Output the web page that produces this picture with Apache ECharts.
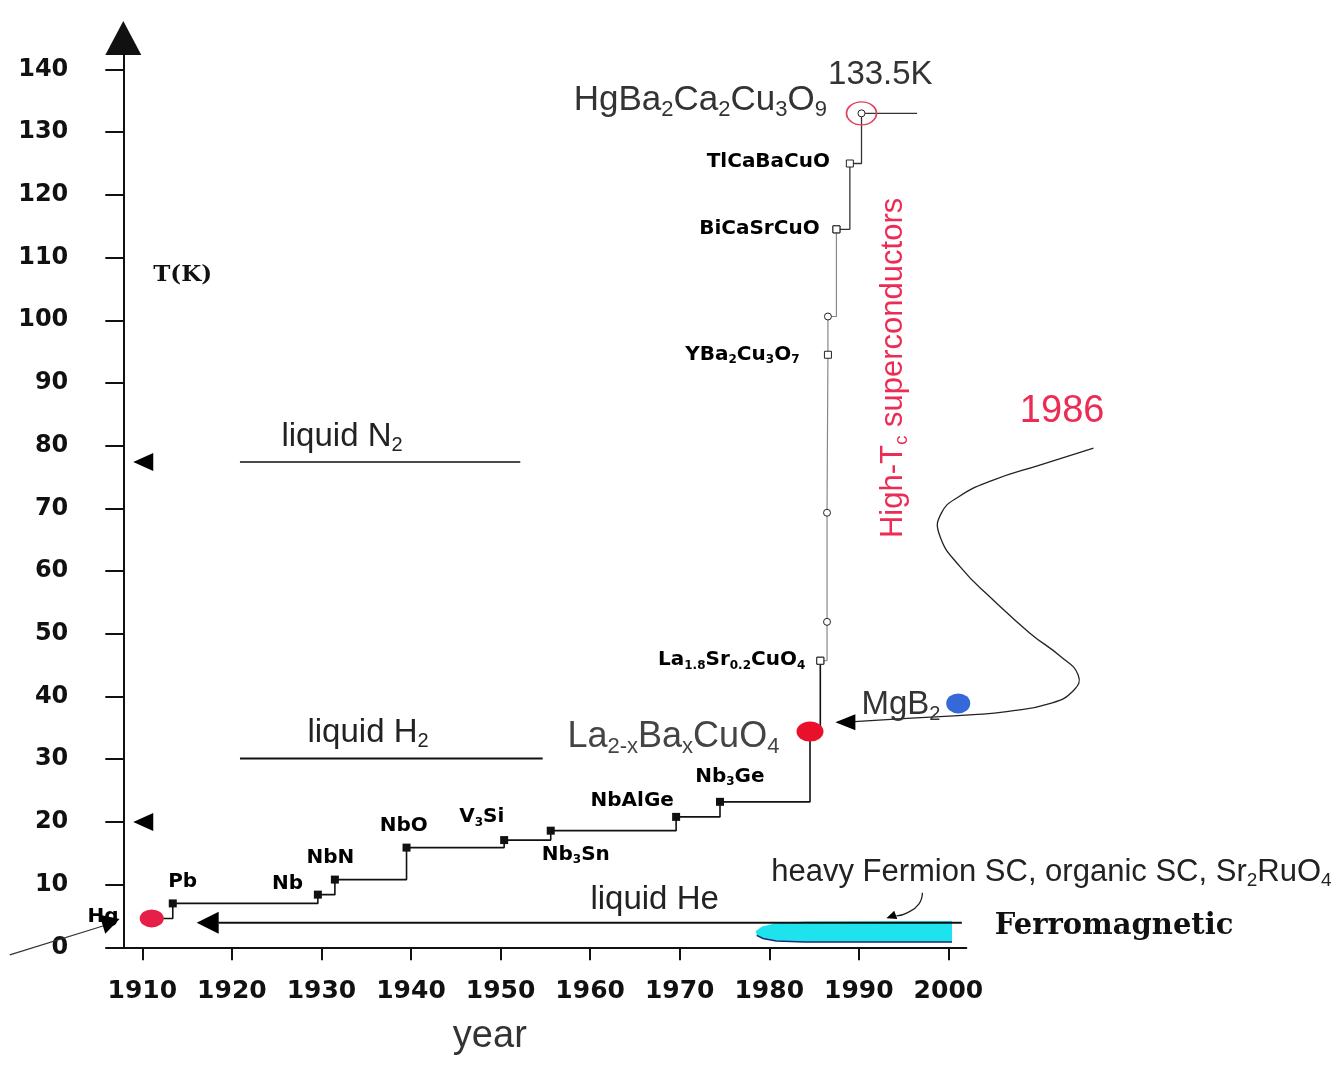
<!DOCTYPE html>
<html><head><meta charset="utf-8">
<script src="https://cdn.jsdelivr.net/npm/echarts@6/dist/echarts.min.js"></script>
<style>html,body{margin:0;padding:0;background:#fff}#c{width:1338px;height:1067px}</style>
</head><body><div id="c"></div>
<script>
// ================= DATA (years / kelvin) =================
const yearTicks = [1910, 1920, 1930, 1940, 1950, 1960, 1970, 1980, 1990, 2000];
const tempTicks = [0, 10, 20, 30, 40, 50, 60, 70, 80, 90, 100, 110, 120, 130, 140];

// conventional superconductors up to the cuprate discovery
const lowTcNames = ['Hg', 'Pb', 'Nb', 'NbN', 'NbO', 'V3Si', 'Nb3Sn', 'NbAlGe', 'Nb3Ge', 'La2-xBaxCuO4', 'La1.8Sr0.2CuO4'];
const lowTcYears = [1911.05, 1913.4, 1929.6, 1931.5, 1939.5, 1950.4, 1955.6, 1969.6, 1974.5, 1984.55, 1985.7];
const lowTcTemps = [4.6, 7.0, 8.4, 10.8, 15.9, 17.1, 18.6, 20.8, 23.2, 34.4, 45.7];

// cuprates 1986-1987
const highTcNames = ['La1.8Sr0.2CuO4', '', '', 'YBa2Cu3O7', '', 'BiCaSrCuO'];
const highTcYears = [1985.7, 1986.45, 1986.45, 1986.55, 1986.55, 1987.5];
const highTcTemps = [45.7, 51.9, 69.3, 94.5, 100.6, 114.5];

// record cuprates
const topTcNames = ['BiCaSrCuO', 'TlCaBaCuO', 'HgBa2Ca2Cu3O9', ''];
const topTcYears = [1987.5, 1989.0, 1990.3, 1996.5];
const topTcTemps = [114.5, 125.0, 133.0, 133.0];

// cryogen levels
const coolantNames = ['liquid N2', 'liquid H2', 'liquid He'];
const coolantTemps = [77.4, 30.1, 3.9];
const coolantStartYears = [1920.9, 1920.9, 1918.5];
const coolantEndYears = [1952.2, 1954.7, 2001.5];
const axisArrowTemps = [77.4, 20.0];
const axisArrowYear = 1910.1;

// MgB2 (2001)
const mgb2Year = 2001.1, mgb2Temp = 38.9;
const mgb2CurveYears = [2016.2, 2010.2, 2005.0, 2001.2, 1999.2, 1999.0, 2001.3, 2005.0, 2009.1, 2012.5, 2014.5, 2014.0, 2011.4, 2006.5, 2002.8, 1995.4, 1989.5];
const mgb2CurveTemps = [79.6, 76.9, 74.5, 71.9, 69.2, 65.8, 60.7, 55.4, 50.1, 46.4, 43.4, 41.0, 38.9, 37.6, 37.1, 36.5, 36.0];

// ferromagnetic / heavy fermion region
const ferroYears = [2000.4, 1984, 1980.6, 1979.2, 1978.5, 1978.6, 1979.3, 1980.8, 1984, 2000.4];
const ferroTemps = [4.2, 4.1, 3.8, 3.3, 2.6, 1.9, 1.4, 1.0, 0.85, 0.85];
const fermionPointerYears = [1997.1, 1996.7, 1995.4, 1994.2];
const fermionPointerTemps = [8.7, 6.9, 5.5, 5.0];
const hgPointerYears = [1895.2, 1905.6];
const hgPointerTemps = [-1.2, 3.4];

// text annotations in data coordinates
const annTexts = ['Hg', 'Pb', 'Nb', 'NbN', 'NbO', 'V{s|3}Si', 'Nb{s|3}Sn', 'NbAlGe', 'Nb{s|3}Ge',
  'La{s|1.8}Sr{s|0.2}CuO{s|4}', 'YBa{s|2}Cu{s|3}O{s|7}', 'BiCaSrCuO', 'TlCaBaCuO',
  'HgBa{s|2}Ca{s|2}Cu{s|3}O{s|9}', '133.5K', 'La{s|2-x}Ba{s|x}CuO{s|4}', 'MgB{s|2}',
  'liquid N{s|2}', 'liquid H{s|2}', 'liquid He', '1986', 'High-T{s|c} superconductors',
  'heavy Fermion SC, organic SC, Sr{s|2}RuO{s|4}', 'Ferromagnetic', 'T(K)', 'year'];
const annYears = [1905.6, 1914.5, 1926.2, 1931.0, 1939.2, 1947.9, 1958.4, 1964.7, 1975.6,
  1975.8, 1977.0, 1978.9, 1979.9,
  1972.3, 1992.4, 1969.3, 1994.7,
  1932.3, 1935.2, 1967.2, 2012.7, 1993.9,
  2011.5, 2018.5, 1914.5, 1948.8];
const annTemps = [4.8, 10.4, 10.1, 14.3, 19.4, 20.8, 14.8, 23.4, 27.2,
  45.8, 94.5, 114.6, 125.3,
  135.1, 139.1, 33.6, 38.6,
  81.4, 34.2, 7.6, 85.4, 92.4,
  11.9, 3.25, 107.2, -14.3];

// ================= STYLES =================
const SANS = '"Liberation Sans", Arial, sans-serif';
const BOLDSANS = '"DejaVu Sans", sans-serif';
const SERIF = '"DejaVu Serif", serif';
const RED = '#ec2c55';
const styles = {
  mat:   {fontFamily: BOLDSANS, fontWeight: 'bold', fontSize: 20, color: '#000'},
  big:   {fontFamily: SANS, fontWeight: 'normal', fontSize: 35, color: '#333'},
  k:     {fontFamily: SANS, fontWeight: 'normal', fontSize: 33, color: '#333'},
  la:    {fontFamily: SANS, fontWeight: 'normal', fontSize: 36, color: '#444'},
  mg:    {fontFamily: SANS, fontWeight: 'normal', fontSize: 33, color: '#333'},
  liq:   {fontFamily: SANS, fontWeight: 'normal', fontSize: 33, color: '#222'},
  red:   {fontFamily: SANS, fontWeight: 'normal', fontSize: 38, color: RED},
  redv:  {fontFamily: SANS, fontWeight: 'normal', fontSize: 31, color: RED, rotate: 90},
  fer:   {fontFamily: SANS, fontWeight: 'normal', fontSize: 31, color: '#222'},
  ferro: {fontFamily: SERIF, fontWeight: 'bold', fontSize: 29, color: '#111'},
  tk:    {fontFamily: SERIF, fontWeight: 'bold', fontSize: 23, color: '#111'},
  year:  {fontFamily: SANS, fontWeight: 'normal', fontSize: 38, color: '#333'}
};
const annStyle = ['mat','mat','mat','mat','mat','mat','mat','mat','mat',
  'mat','mat','mat','mat',
  'big','k','la','mg',
  'liq','liq','liq','red','redv',
  'fer','ferro','tk','year'];

function labelFor(text, st) {
  const sub = {fontFamily: st.fontFamily, fontWeight: st.fontWeight, color: st.color,
    fontSize: Math.round(st.fontSize * 0.62), padding: [Math.round(st.fontSize * 0.55), 0, 0, 0]};
  return {show: true, position: 'inside', align: 'center', verticalAlign: 'middle',
    formatter: text, rotate: st.rotate || 0, opacity: 1,
    fontFamily: st.fontFamily, fontWeight: st.fontWeight, fontSize: st.fontSize, color: st.color,
    rich: {s: sub}};
}

function markerLow(i) {
  const n = lowTcNames[i];
  if (n === 'Hg') return {symbol: 'circle', symbolSize: [24, 18], itemStyle: {color: '#e61e48'}};
  if (n === 'La2-xBaxCuO4') return {symbol: 'circle', symbolSize: [27, 20], itemStyle: {color: '#e8102a'}};
  if (n === 'La1.8Sr0.2CuO4') return {symbol: 'rect', symbolSize: 7, itemStyle: {color: '#fff', borderColor: '#222', borderWidth: 1}};
  return {symbol: 'rect', symbolSize: 8, itemStyle: {color: '#111'}};
}
function markerOpen(name) {
  return {symbol: name ? 'rect' : 'circle', symbolSize: 7, itemStyle: {color: '#fff', borderColor: '#222', borderWidth: 1}};
}

// free polyline drawn through the axes' scales (not clipped)
function polylineSeries(years, temps, stroke, width, smooth) {
  return {
    type: 'custom', z: 4, silent: true, clip: false,
    data: [[years[0], temps[0]]],
    renderItem: function (params, api) {
      const pts = years.map((y, i) => api.coord([y, temps[i]]));
      return {type: 'polyline', shape: {points: pts, smooth: smooth || 0},
        style: {stroke: stroke, lineWidth: width, fill: null}};
    }
  };
}

const series = [];

// ferromagnetic blob
series.push({
  type: 'custom', z: 1, silent: true, clip: false,
  data: [[1990, 2]],
  renderItem: function (params, api) {
    const pts = ferroYears.map((y, i) => api.coord([y, ferroTemps[i]]));
    const bottom = pts.slice(5);
    return {type: 'group', children: [
      {type: 'polygon', shape: {points: pts}, style: {fill: '#1fe3ec'}},
      {type: 'polyline', shape: {points: bottom}, style: {stroke: '#1b2b70', lineWidth: 1.5, fill: null}}
    ]};
  }
});

// cryogen lines
coolantNames.forEach((n, i) => {
  series.push({type: 'line', z: 3, symbol: 'none', silent: true,
    lineStyle: {color: '#111', width: i === 0 ? 1.6 : 2},
    data: [[coolantStartYears[i], coolantTemps[i]], [coolantEndYears[i], coolantTemps[i]]]});
});

// step lines
series.push({type: 'line', z: 5, step: 'end', silent: true, clip: false,
  lineStyle: {color: '#111', width: 1.6},
  data: lowTcYears.map((y, i) => Object.assign({value: [y, lowTcTemps[i]]}, markerLow(i)))});
series.push({type: 'line', z: 4, step: 'end', silent: true, clip: false,
  lineStyle: {color: '#888', width: 1.2},
  data: highTcYears.map((y, i) => Object.assign({value: [y, highTcTemps[i]]}, markerOpen(highTcNames[i])))});
series.push({type: 'line', z: 4, step: 'end', silent: true, clip: false,
  lineStyle: {color: '#333', width: 1.3},
  data: topTcYears.map((y, i) => {
    const d = {value: [y, topTcTemps[i]]};
    if (topTcNames[i] === '') { d.symbol = 'none'; }
    else Object.assign(d, markerOpen(topTcNames[i] === 'HgBa2Ca2Cu3O9' ? '' : topTcNames[i]));
    return d;
  })});
// record ring
series.push({type: 'scatter', z: 6, silent: true, clip: false,
  symbol: 'circle', symbolSize: [30, 23],
  itemStyle: {color: 'rgba(0,0,0,0)', borderColor: '#e0405a', borderWidth: 1.5, opacity: 1},
  data: [[topTcYears[2], topTcTemps[2]]]});

// MgB2 curve, pointers
series.push(polylineSeries(mgb2CurveYears, mgb2CurveTemps, '#222', 1.3, 0.5));
series.push(polylineSeries(fermionPointerYears, fermionPointerTemps, '#222', 1.3, 0.5));
series.push(polylineSeries(hgPointerYears, hgPointerTemps, '#333', 1.2, 0));
series.push({type: 'scatter', z: 6, silent: true, clip: false,
  symbol: 'circle', symbolSize: [24, 20], itemStyle: {color: '#3568d8', opacity: 1},
  data: [[mgb2Year, mgb2Temp]]});

// arrow heads
series.push({type: 'scatter', z: 7, silent: true, clip: false, symbol: 'triangle',
  itemStyle: {color: '#000', opacity: 1},
  data: [
    {value: [axisArrowYear, axisArrowTemps[0]], symbolSize: [18, 20], symbolRotate: 90},
    {value: [axisArrowYear, axisArrowTemps[1]], symbolSize: [18, 20], symbolRotate: 90},
    {value: [coolantStartYears[2] - 1.2, coolantTemps[2]], symbolSize: [22, 22], symbolRotate: 90},
    {value: [1988.5, 35.9], symbolSize: [16, 20], symbolRotate: 90},
    {value: [1993.6, 4.9], symbolSize: [9, 10], symbolRotate: 110},
    {value: [1906.5, 4.1], symbolSize: [20, 18], symbolRotate: -73}
  ]});

// text annotations
series.push({type: 'scatter', z: 10, silent: true, clip: false,
  symbol: 'circle', symbolSize: 1, itemStyle: {color: 'rgba(0,0,0,0)', opacity: 1},
  data: annTexts.map((t, i) => ({value: [annYears[i], annTemps[i]], label: labelFor(t, styles[annStyle[i]])}))});

const chart = echarts.init(document.getElementById('c'), null, {renderer: 'canvas'});
chart.setOption({
  animation: false,
  backgroundColor: '#fff',
  grid: {left: 106.5, top: 38.1, width: 859.8, height: 909.2, containLabel: false, outerBoundsMode: 'none'},
  xAxis: {
    type: 'value', min: 1906, max: 2002,
    splitLine: {show: false},
    axisLine: {show: true, lineStyle: {color: '#111', width: 2}},
    axisTick: {show: true, length: 13, lineStyle: {color: '#111', width: 2}, customValues: yearTicks},
    axisLabel: {show: true, customValues: yearTicks, margin: 32, formatter: v => String(v),
      fontFamily: BOLDSANS, fontWeight: 'bold', fontSize: 25, color: '#111'}
  },
  yAxis: {
    type: 'value', min: 0, max: 145, offset: -16.8, position: 'left',
    splitLine: {show: false},
    axisLine: {show: true, symbol: ['none', 'triangle'], symbolSize: [36, 34], lineStyle: {color: '#111', width: 2}},
    axisTick: {show: true, length: 18, lineStyle: {color: '#111', width: 2}, customValues: tempTicks},
    axisLabel: {show: true, customValues: tempTicks, margin: 55, padding: [0, 0, 10, 0], formatter: v => String(v),
      fontFamily: BOLDSANS, fontWeight: 'bold', fontSize: 24, color: '#111'}
  },
  series: series
});
</script>
</body></html>
